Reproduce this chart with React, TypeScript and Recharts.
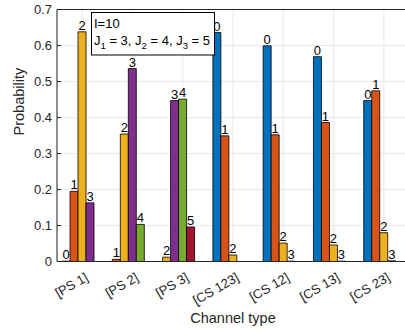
import React from 'react'
import { BarChart, Bar, XAxis, YAxis, CartesianGrid, ReferenceLine, LabelList, Cell } from 'recharts'

// channel types on the x axis
const categories = ['[PS 1]', '[PS 2]', '[PS 3]', '[CS 123]', '[CS 12]', '[CS 13]', '[CS 23]']

// probability of each bar slot (slot 5 stays empty)
const slot1 = [0.001, 0.006, 0.012, 0.636, 0.599, 0.569, 0.447]
const slot2 = [0.195, 0.354, 0.447, 0.349, 0.352, 0.386, 0.474]
const slot3 = [0.638, 0.536, 0.451, 0.018, 0.051, 0.046, 0.08]
const slot4 = [0.163, 0.103, 0.096, null, 0.001, 0.001, 0.002]
const slot5 = [null, null, null, null, null, null, null]

// which index (0..5) each slot shows
const slot1Ids = [0, 1, 2, 0, 0, 0, 0]
const slot2Ids = [1, 2, 3, 1, 1, 1, 1]
const slot3Ids = [2, 3, 4, 2, 2, 2, 2]
const slot4Ids = [3, 4, 5, null, 3, 3, 3]

const yTicks = [0, 0.1, 0.2, 0.3, 0.4, 0.5, 0.6, 0.7]

const COLORS = ['#0072BD', '#D95319', '#EDB120', '#7E2F8E', '#77AC30', '#A2142F']
const FONT = '"Liberation Sans", Arial, Helvetica, sans-serif'
const AXIS = '#262626'

const data = categories.map((name, i) => ({
  name,
  s1: slot1[i],
  s2: slot2[i],
  s3: slot3[i],
  s4: slot4[i],
  s5: slot5[i],
  id1: slot1Ids[i],
  id2: slot2Ids[i],
  id3: slot3Ids[i],
  id4: slot4Ids[i],
}))

const slots = [
  { key: 's1', ids: slot1Ids, idKey: 'id1' },
  { key: 's2', ids: slot2Ids, idKey: 'id2' },
  { key: 's3', ids: slot3Ids, idKey: 'id3' },
  { key: 's4', ids: slot4Ids, idKey: 'id4' },
]

const BarLabel = (props: any) => {
  const { x, y, width, value } = props
  if (value === null || value === undefined) return null
  return (
    <text x={x + width / 2} y={y - 2} textAnchor="middle" fontSize={13} fontFamily={FONT} fill="#000">
      {value}
    </text>
  )
}

const XTick = (props: any) => {
  const { x, payload } = props
  const ax = x + 7
  const ay = 280
  return (
    <text
      x={ax}
      y={ay}
      textAnchor="end"
      fontSize={13}
      fontFamily={FONT}
      fill={AXIS}
      transform={`rotate(-30 ${ax} ${ay})`}
    >
      {payload.value}
    </text>
  )
}

export default function App() {
  return (
    <div style={{ position: 'absolute', left: 0, top: 0, width: 405, height: 329, overflow: 'hidden', background: '#fff' }}>
      <BarChart
        width={420}
        height={329}
        data={data}
        margin={{ top: 9.5, right: 11, bottom: 0, left: 0 }}
        barCategoryGap="10%"
        barGap={0}
      >
        <CartesianGrid stroke="#e3e3e3" strokeWidth={0.8} />
        <XAxis
          dataKey="name"
          height={67.5}
          axisLine={{ stroke: AXIS }}
          tickLine={false}
          tick={<XTick />}
          interval={0}
          label={{ value: 'Channel type', position: 'insideBottom', offset: 6, fontSize: 14.5, fontFamily: FONT, fill: AXIS }}
        />
        <YAxis
          width={57}
          domain={[0, 0.7]}
          ticks={yTicks}
          interval={0}
          axisLine={{ stroke: AXIS }}
          tickLine={{ stroke: AXIS }}
          tickSize={-4}
          tickMargin={9}
          tickFormatter={(v: number) => (v === 0 ? '0' : v.toFixed(1))}
          tick={{ fontSize: 13, fontFamily: FONT, fill: AXIS }}
          label={{ value: 'Probability', angle: -90, position: 'insideLeft', offset: 19, fontSize: 14.5, fontFamily: FONT, fill: AXIS }}
        />
        <ReferenceLine y={0.7} stroke={AXIS} />
        {slots.map((s) => (
          <Bar key={s.key} dataKey={s.key} stroke="#000" strokeWidth={0.8} isAnimationActive={false}>
            {s.ids.map((id, i) => (
              <Cell key={i} fill={id === null ? 'none' : COLORS[id]} />
            ))}
            <LabelList dataKey={s.idKey} content={<BarLabel />} />
          </Bar>
        ))}
        <Bar dataKey="s5" isAnimationActive={false} />
      </BarChart>
      <svg width={405} height={329} style={{ position: 'absolute', left: 0, top: 0, pointerEvents: 'none' }}>
        <rect x={91.5} y={12.5} width={123} height={42.5} fill="#fff" stroke="#000" strokeWidth={1} />
        <text x={94} y={28} fontSize={13} fontFamily={FONT} fill="#000">
          I=10
        </text>
        <text x={94} y={44.5} fontSize={13} fontFamily={FONT} fill="#000">
          J<tspan fontSize={9.5} dy={4}>1</tspan>
          <tspan dy={-4}> = 3, J</tspan>
          <tspan fontSize={9.5} dy={4}>2</tspan>
          <tspan dy={-4}> = 4, J</tspan>
          <tspan fontSize={9.5} dy={4}>3</tspan>
          <tspan dy={-4}> = 5</tspan>
        </text>
      </svg>
    </div>
  )
}
